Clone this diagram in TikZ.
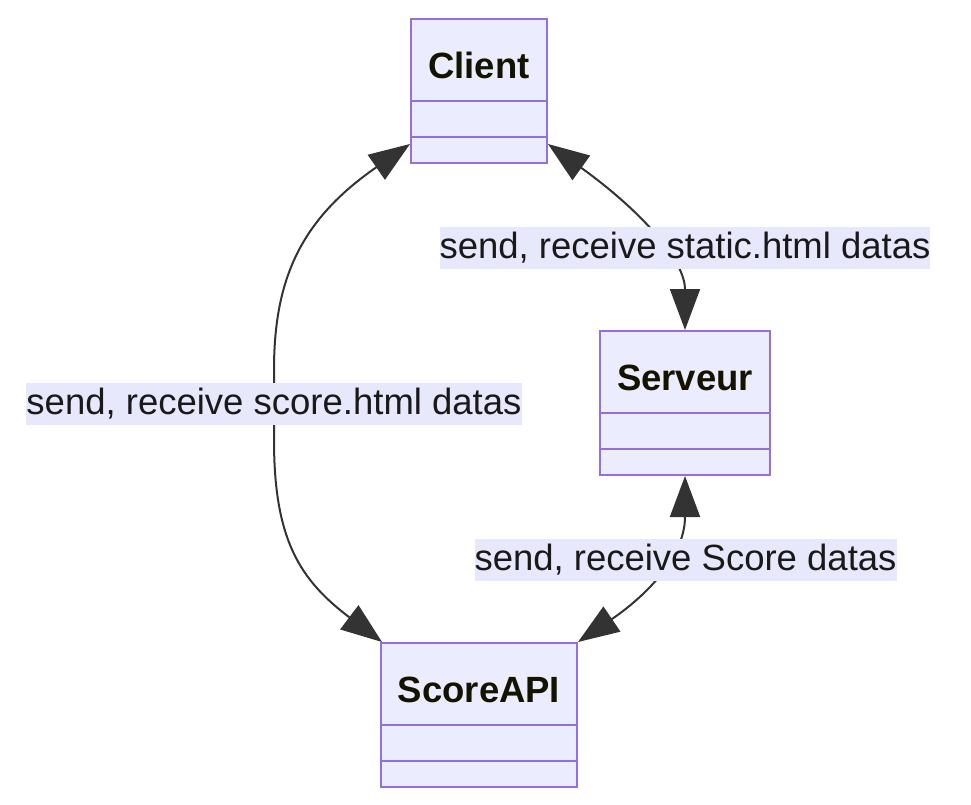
\documentclass[tikz,border=0pt]{standalone}
\usepackage{fontspec}
\setmainfont{Liberation Sans}
\usetikzlibrary{arrows.meta,calc}
\definecolor{boxfill}{HTML}{ECECFF}
\definecolor{boxline}{HTML}{9370DB}
\definecolor{edgecol}{HTML}{333333}
\definecolor{titlecol}{HTML}{131300}
\definecolor{lblbg}{HTML}{E8E8FC}
\tikzset{
  classbox/.style={draw=boxline, fill=boxfill, line width=2pt, rectangle, inner sep=0pt, minimum height=144pt},
  sepline/.style={draw=boxline, line width=2pt},
  titletext/.style={font=\fontsize{36.5}{43}\selectfont\bfseries, text=titlecol, inner sep=0pt},
  lbl/.style={fill=lblbg, text=black!90, font=\fontsize{36.5}{43}\selectfont, inner xsep=0pt, inner ysep=0pt, minimum height=42pt, text height=27pt, text depth=7pt},
  conn/.style={draw=edgecol, line width=2pt, {Triangle[length=41pt,width=30pt]}-{Triangle[length=41pt,width=30pt]}, color=edgecol},
}
\begin{document}
\begin{tikzpicture}[x=1pt,y=-1pt]
\useasboundingbox (0,0) rectangle (971,804);
% classes
\node[classbox, minimum width=136pt] (client) at (479,91) {};
\node[classbox, minimum width=170pt] (serveur) at (685,403) {};
\node[classbox, minimum width=196pt] (scoreapi) at (479,715) {};
\foreach \n in {client,serveur,scoreapi}{
  \draw[sepline] ([yshift=-83pt]\n.north west) -- ([yshift=-83pt]\n.north east);
  \draw[sepline] ([yshift=-119pt]\n.north west) -- ([yshift=-119pt]\n.north east);
}
\node[titletext] (clientT) at ([yshift=-47.5pt]client.north) {Client};
\node[titletext] (serveurT) at ([yshift=-47.5pt]serveur.north) {Serveur};
\node[titletext] (scoreapiT) at ([yshift=-47.5pt]scoreapi.north) {ScoreAPI};
% anchor points
\coordinate (cL) at ([yshift=20pt]client.south west);
\coordinate (cR) at ([yshift=20pt]client.south east);
\coordinate (sT) at (serveur.north);
\coordinate (sB) at (serveur.south);
\coordinate (aL) at ([xshift=2pt]scoreapi.north west);
\coordinate (aR) at (scoreapi.north east);
% edges
\draw[conn] (cL) .. controls (300,220) and (274,280) .. (274,370) -- (274,440) .. controls (274,540) and (300,580) .. (aL);
\draw[conn] (cR) .. controls (640,210) and (685,260) .. (sT);
\draw[conn] (sB) .. controls (685,560) and (640,600) .. (aR);
% labels
\node[lbl] (l1) at (685,248) {send, receive static.html datas};
\node[lbl] (l2) at (274,404) {send, receive score.html datas};
\node[lbl] (l3) at (685.5,560) {send, receive Score datas};
\end{tikzpicture}
\end{document}
